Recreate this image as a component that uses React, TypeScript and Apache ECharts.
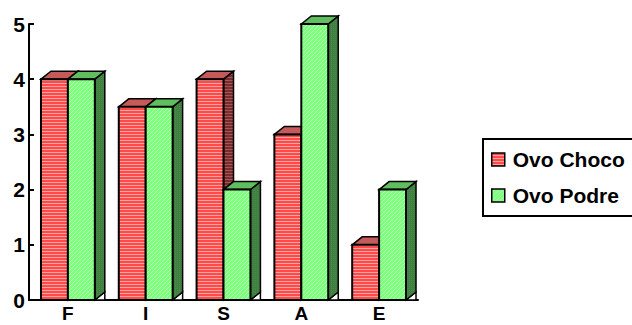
import React, { useEffect, useRef } from "react";
import * as echarts from "echarts";

const categories = ["F", "I", "S", "A", "E"];
const ovoChoco = [4, 3.5, 4, 3, 1];
const ovoPodre = [4, 3.5, 2, 5, 2];
const seriesNames = ["Ovo Choco", "Ovo Podre"];
const yTicks = { min: 0, max: 5, interval: 1 };

function makePattern(w: number, h: number, draw: (ctx: CanvasRenderingContext2D) => void) {
  const c = document.createElement("canvas");
  c.width = w;
  c.height = h;
  const ctx = c.getContext("2d")!;
  draw(ctx);
  return { image: c, repeat: "repeat" as const };
}

export default function App() {
  const ref = useRef<HTMLDivElement>(null);
  useEffect(() => {
    if (!ref.current) return;
    const chart = echarts.init(ref.current, undefined, { renderer: "svg" });

    const redFront = makePattern(1, 3, (ctx) => {
      ctx.fillStyle = "#ff4a4a";
      ctx.fillRect(0, 0, 1, 2);
      ctx.fillStyle = "#ffa3a3";
      ctx.fillRect(0, 2, 1, 1);
    });
    const redSide = makePattern(1, 3, (ctx) => {
      ctx.fillStyle = "#7a2a2a";
      ctx.fillRect(0, 0, 1, 2);
      ctx.fillStyle = "#a05858";
      ctx.fillRect(0, 2, 1, 1);
    });
    const greenFront = makePattern(4, 4, (ctx) => {
      ctx.fillStyle = "#7dff7d";
      ctx.fillRect(0, 0, 4, 4);
      ctx.fillStyle = "#b0ffb0";
      for (let i = 0; i < 4; i++) ctx.fillRect(3 - i, i, 1, 1);
    });
    const greenSide = makePattern(2, 2, (ctx) => {
      ctx.fillStyle = "#3f7f3f";
      ctx.fillRect(0, 0, 2, 2);
      ctx.fillStyle = "#4a8a4a";
      ctx.fillRect(1, 0, 1, 1);
    });

    const styles = [
      { front: redFront, top: "#c65a5a", side: redSide },
      { front: greenFront, top: "#5fbf5f", side: greenSide },
    ];

    const makeRender = (s: number) => (params: any, api: any) => {
      const cat = api.value(0);
      const val = api.value(1);
      const base = api.coord([cat, 0]);
      const topPt = api.coord([cat, val]);
      const band = api.size([1, 0])[0];
      const bw = band * 0.346;
      const dx = 10;
      const dy = 8;
      const x1 = base[0] + (s === 0 ? -bw : 0);
      const x2 = x1 + bw;
      const y0 = base[1];
      const yt = topPt[1];
      const st = styles[s];
      return {
        type: "group",
        children: [
          {
            type: "polygon",
            shape: { points: [[x2, y0], [x2 + dx, y0 - dy], [x2 + dx, y0]] },
            style: { fill: "#fff", stroke: "#000", lineWidth: 1.5 },
          },
          {
            type: "polygon",
            shape: { points: [[x2, yt], [x2 + dx, yt - dy], [x2 + dx, y0 - dy], [x2, y0]] },
            style: { fill: st.side, stroke: "#000", lineWidth: 1.5 },
          },
          {
            type: "polygon",
            shape: { points: [[x1, yt], [x1 + dx, yt - dy], [x2 + dx, yt - dy], [x2, yt]] },
            style: { fill: st.top, stroke: "#000", lineWidth: 1.5 },
          },
          {
            type: "rect",
            shape: { x: x1, y: yt, width: bw, height: y0 - yt },
            style: { fill: st.front, stroke: "#000", lineWidth: 2 },
          },
        ],
      };
    };

    const font = "Arial, 'Liberation Sans', sans-serif";

    chart.setOption({
      animation: false,
      grid: { left: 29, top: 24, right: 214, bottom: 25, containLabel: false, outerBoundsMode: "none" },
      legend: {
        orient: "vertical",
        left: 483,
        top: 139,
        icon: "rect",
        itemWidth: 13,
        itemHeight: 13,
        itemGap: 15,
        padding: [10, 9, 10, 8],
        borderColor: "#000",
        borderWidth: 2,
        borderRadius: 0,
        textStyle: { fontFamily: font, fontWeight: "bold", fontSize: 21, color: "#000", padding: [0, 0, 0, 3] },
        data: [
          { name: seriesNames[0], itemStyle: { color: redFront, borderColor: "#000", borderWidth: 1.5 } },
          { name: seriesNames[1], itemStyle: { color: greenFront, borderColor: "#000", borderWidth: 1.5 } },
        ],
      },
      xAxis: {
        type: "category",
        data: categories,
        axisLine: { lineStyle: { color: "#000", width: 2 } },
        axisTick: { show: false },
        axisLabel: { color: "#000", fontFamily: font, fontWeight: "bold", fontSize: 19, margin: 4, lineHeight: 19 },
      },
      yAxis: {
        type: "value",
        min: yTicks.min,
        max: yTicks.max,
        interval: yTicks.interval,
        axisLine: { show: true, lineStyle: { color: "#000", width: 2 } },
        axisTick: { show: true, inside: true, length: 5, lineStyle: { color: "#000", width: 2 } },
        splitLine: { show: false },
        axisLabel: { color: "#000", fontFamily: font, fontWeight: "bold", fontSize: 21, margin: 4 },
      },
      series: [
        {
          name: seriesNames[0],
          type: "custom",
          renderItem: makeRender(0),
          data: ovoChoco.map((v, i) => [i, v]),
          itemStyle: { color: "#ff5a5a" },
          z: 2,
        },
        {
          name: seriesNames[1],
          type: "custom",
          renderItem: makeRender(1),
          data: ovoPodre.map((v, i) => [i, v]),
          itemStyle: { color: "#7dff7d" },
          z: 3,
        },
      ],
    });
    return () => chart.dispose();
  }, []);
  return <div ref={ref} style={{ width: 632, height: 325, position: "absolute", left: 0, top: 0 }} />;
}
